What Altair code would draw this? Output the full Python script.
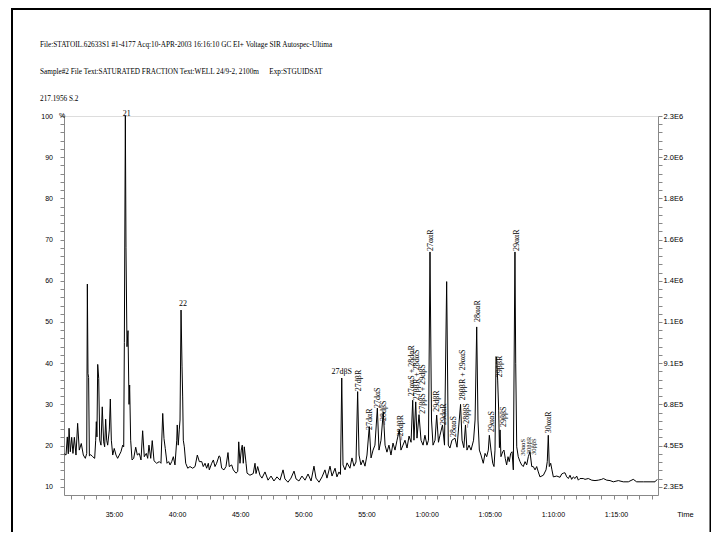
import altair as alt
import pandas as pd

FONT = "Liberation Serif"

header_file = "File:STATOIL.62633S1 #1-4177 Acq:10-APR-2003 16:16:10 GC EI+ Voltage SIR Autospec-Ultima"
header_sample = "Sample#2 File Text:SATURATED FRACTION Text:WELL 24/9-2, 2100m"
header_exp = "Exp:STGUIDSAT"
header_mass = "217.1956 S.2"
x_title = "Time"
y_title = "%"

# retention time (min) and relative intensity (%)
times = [
    30.45, 30.59, 30.69, 30.77, 30.83, 30.93, 31.04, 31.14, 31.25, 31.38,
    31.51, 31.64, 31.80, 31.96, 32.12, 32.23, 32.28, 32.33, 32.38, 32.44,
    32.55, 32.70, 32.86, 32.94, 32.99, 33.04, 33.10, 33.18, 33.26, 33.36,
    33.46, 33.57, 33.65, 33.73, 33.81, 33.89, 34.02, 34.10, 34.18, 34.29,
    34.41, 34.55, 34.68, 34.81, 34.94, 35.08, 35.16, 35.21, 35.29, 35.34,
    35.42, 35.50, 35.58, 35.63, 35.71, 35.82, 35.95, 36.11, 36.24, 36.39,
    36.53, 36.66, 36.79, 36.95, 37.06, 37.16, 37.30, 37.42, 37.56, 37.77,
    37.98, 38.11, 38.25, 38.35, 38.45, 38.59, 38.72, 38.83, 38.96, 39.09,
    39.22, 39.36, 39.40, 39.48, 39.56, 39.62, 39.70, 39.78, 39.83, 39.88,
    39.96, 40.07, 40.23, 40.41, 40.62, 40.81, 40.99, 41.15, 41.34, 41.46,
    41.60, 41.73, 41.86, 41.94, 42.13, 42.26, 42.39, 42.52, 42.71, 42.79,
    42.92, 43.10, 43.26, 43.42, 43.52, 43.71, 43.84, 44.05, 44.19, 44.27,
    44.37, 44.47, 44.55, 44.63, 44.71, 44.85, 44.93, 45.16, 45.42, 45.56,
    45.64, 45.77, 45.95,
    46.11, 46.35, 46.59, 46.83, 47.06, 47.30, 47.54, 47.78, 47.93, 48.17,
    48.41, 48.65, 48.81, 49.04, 49.28, 49.52, 49.76, 50.00, 50.23, 50.39,
    50.63, 50.87, 51.10, 51.26, 51.50, 51.66, 51.90, 52.05, 52.21, 52.33,
    52.43, 52.53, 52.69, 52.85, 53.08, 53.24, 53.40, 53.56, 53.69, 53.80,
    53.95, 54.11, 54.27, 54.43, 54.61, 54.75, 54.91, 55.06, 55.25, 55.38,
    55.54, 55.72, 55.86, 56.01, 56.17, 56.33, 56.49, 56.65, 56.81, 56.99,
    57.12, 57.28, 57.44, 57.60, 57.76, 57.92, 58.05, 58.15, 58.29, 58.39,
    58.55, 58.71, 58.87, 59.02, 59.18, 59.30, 59.42, 59.54, 59.66, 59.82,
    59.95, 60.09, 60.21, 60.41, 60.57, 60.74, 60.87, 61.00, 61.16, 61.40,
    61.56, 61.84, 61.96, 62.10, 62.23, 62.35, 62.51, 62.67, 62.87, 62.99,
    63.12, 63.22, 63.33, 63.46,
    63.64, 63.78, 63.91, 64.04, 64.12, 64.25, 64.39, 64.49, 64.57, 64.65,
    64.70, 64.78, 64.86, 64.92, 64.97, 65.04, 65.18, 65.28, 65.38, 65.49,
    65.60, 65.70, 65.81, 65.92, 66.02, 66.15, 66.21, 66.29, 66.41, 66.55,
    66.68, 66.81, 66.95, 67.08, 67.21, 67.34, 67.48, 67.60, 67.74, 67.87,
    68.00, 68.13, 68.40, 68.61, 68.71, 68.79, 68.87, 68.98, 69.08, 69.19,
    69.46, 69.72, 69.85, 69.98, 70.11, 70.25, 70.38, 70.51, 70.64, 70.77,
    70.91, 71.04, 71.17, 71.30, 71.56, 71.70, 71.96, 72.23, 72.49, 72.75,
    73.02, 73.15, 73.42, 73.68, 73.94, 74.34, 74.73, 75.13, 75.52, 75.79,
    76.32, 76.85, 77.24, 77.42,
]
intensity = [
    18.0, 17.7, 22.1, 18.0, 24.2, 18.5, 22.0, 18.1, 22.0, 17.7,
    25.4, 18.9, 20.5, 17.7, 16.9, 18.1, 59.2, 37.5, 36.5, 17.5,
    17.8, 17.3, 16.9, 21.3, 25.8, 22.1, 39.7, 36.3, 21.3, 20.1,
    29.4, 20.9, 19.7, 26.4, 21.3, 20.1, 23.8, 31.3, 21.3, 17.7,
    19.3, 17.7, 16.9, 17.7, 18.5, 20.1, 19.7, 45.0, 100.0, 68.0,
    44.0, 47.9, 30.0, 34.7, 21.3, 16.5, 16.9, 19.6, 17.7, 18.1,
    16.5, 23.6, 17.3, 18.1, 16.9, 20.1, 16.9, 21.2, 16.3, 15.7,
    16.1, 15.7, 27.8, 21.7, 19.3, 15.7, 16.1, 15.3, 16.1, 17.3,
    15.3, 21.3, 25.0, 20.1, 23.8, 26.2, 52.9, 39.1, 31.8, 21.3,
    19.7, 15.7, 14.5, 14.9, 14.5, 14.9, 17.7, 16.1, 16.1, 14.9,
    15.7, 14.5, 15.7, 14.1, 15.7, 16.5, 14.9, 15.7, 17.5, 17.3,
    14.5, 14.1, 14.9, 18.3, 14.9, 15.3, 14.1, 13.3, 13.7, 20.9,
    15.7, 18.9, 20.1, 15.7, 19.7, 15.7, 13.3, 12.8, 13.2, 15.7,
    13.2, 14.9, 12.8,
    12.1, 13.6, 11.6, 12.6, 11.4, 12.4, 11.6, 14.1, 11.9, 11.1,
    12.1, 13.8, 11.9, 11.4, 12.6, 11.6, 13.1, 11.4, 15.0, 12.1,
    11.1, 12.4, 14.1, 12.1, 15.0, 12.6, 14.5, 12.4, 13.6, 13.0,
    36.4, 15.3, 14.1, 15.8, 14.5, 17.0, 15.0, 16.0, 33.1, 17.7,
    15.3, 16.5, 15.0, 17.7, 24.6, 17.0, 18.9, 20.1, 29.1, 18.9,
    21.3, 28.2, 20.1, 18.4, 20.1, 17.7, 20.6, 18.9, 21.3, 23.8,
    18.9, 20.1, 21.3, 19.4, 22.3, 20.8, 31.0, 21.3, 30.6, 21.8,
    27.5, 21.3, 20.1, 22.5, 20.1, 21.3, 67.0, 26.2, 20.1, 21.3,
    27.4, 20.8, 22.5, 25.0, 20.1, 59.8, 20.1, 19.4, 21.3, 21.8,
    19.6, 30.0, 21.3, 19.5, 25.0, 18.9, 20.1, 18.9, 21.3, 26.2,
    48.8, 26.2, 18.9, 17.7,
    15.7, 18.1, 17.3, 18.9, 22.5, 18.9, 15.7, 14.9, 18.9, 41.6,
    41.2, 35.9, 28.6, 19.5, 23.8, 17.3, 18.5, 18.9, 16.9, 15.3,
    17.3, 16.1, 18.1, 18.5, 14.1, 67.0, 40.0, 19.7, 17.3, 16.1,
    15.3, 14.9, 16.1, 15.3, 17.3, 18.5, 14.9, 14.9, 14.1, 14.9,
    13.6, 12.4, 12.8, 14.1, 16.1, 22.5, 14.9, 15.7, 14.1, 12.4,
    12.6, 12.3, 13.1, 13.3, 13.4, 12.4, 12.0, 12.8, 11.8, 12.4,
    12.0, 12.6, 11.6, 12.0, 12.0, 11.8, 12.0, 11.6, 11.5, 11.6,
    11.8, 12.0, 11.6, 11.5, 11.2, 11.5, 11.2, 11.2, 11.8, 11.2,
    11.2, 11.2, 11.2, 11.8,
]

# horizontal peak labels
h_labels = ["21", "22", "27dβS"]
h_time = [35.40, 39.86, 52.43]
h_level = [99.4, 53.3, 36.9]

# vertical peak labels (text starts at the given level and runs upward)
v_labels = ["27dβR", "27dαR", "27dαS", "–28dβS", "–28dβR",
            "27ααS + 28dαR", "27ββR + 28dαS", "27ββS + 29dβS", "27ααR",
            "29dβR", "29dαR", "28ααS", "28ββR + 29ααS", "–28ββS", "28ααR",
            "29ααS", "29ββR", "29ββS", "29ααR", "30ααR"]
v_time = [53.80, 54.67, 55.33, 55.78, 57.12,
          58.03, 58.43, 58.87, 59.50,
          59.95, 60.53, 61.32, 62.00, 62.39, 63.20,
          64.31, 64.97, 65.28, 66.29, 68.85]
v_level = [33.2, 23.8, 29.1, 25.0, 21.3,
           32.0, 31.0, 27.7, 67.2,
           28.2, 25.0, 22.1, 31.0, 24.3, 50.0,
           23.3, 36.6, 24.5, 67.2, 23.0]

# small crowded labels
s_labels = ["30ααS", "30ββR", "30ββS"]
s_time = [66.75, 67.24, 67.64]
s_level = [17.5, 17.9, 17.7]

x_minor_ticks = list(range(31, 78))
x_label_minutes = [35, 40, 45, 50, 55, 60, 65, 70, 75]
x_tick_labels = ["35:00", "40:00", "45:00", "50:00", "55:00",
                 "1:00:00", "1:05:00", "1:10:00", "1:15:00"]
y_ticks = list(range(10, 101, 2))
right_values = [10, 20, 30, 40, 50, 60, 70, 80, 90, 100]
right_labels = ["2.3E5", "4.5E5", "6.8E5", "9.1E5", "1.1E6",
                "1.4E6", "1.6E6", "1.8E6", "2.0E6", "2.3E6"]


def lookup_expr(values, labels):
    expr = "''"
    for val, lab in reversed(list(zip(values, labels))):
        expr = f"datum.value == {val} ? '{lab}' : ({expr})"
    return expr


xscale = alt.Scale(domain=[30.43, 77.48], nice=False, zero=False)
yscale = alt.Scale(domain=[8, 100], nice=False, zero=False)

x_axis = alt.Axis(
    orient="bottom", values=x_minor_ticks,
    labelExpr=lookup_expr(x_label_minutes, x_tick_labels),
    ticks=True, labels=True, domain=True,
    tickSize=4, labelPadding=15, labelAlign="right", labelBaseline="middle",
    labelOffset=1, labelFontSize=7, labelOverlap=False, labelFlush=False, grid=False,
    title=x_title, titleX=621, titleY=19.5, titleAlign="center", titleBaseline="middle",
    titleFontSize=7.5, titleFontWeight="normal",
)
y_axis_left = alt.Axis(
    orient="left", values=y_ticks, labelExpr="datum.value % 10 == 0 ? datum.label : ''",
    tickSize=4, labelPadding=7.5, labelAlign="right", labelBaseline="middle",
    labelFontSize=7, labelOverlap=False, labelFlush=False, grid=False,
    title=y_title, titleAngle=0, titleX=-2.5, titleY=-1, titleAlign="center",
    titleBaseline="middle", titleFontSize=7, titleFontWeight="normal",
)
y_axis_right = alt.Axis(
    orient="right", values=y_ticks, labelExpr=lookup_expr(right_values, right_labels),
    tickSize=4, labelPadding=1, labelAlign="left", labelBaseline="middle",
    labelFontSize=7.5, labelOverlap=False, labelFlush=False, grid=False, title="",
)

trace = pd.DataFrame({"t": times, "v": intensity})
one = pd.DataFrame({"k": [0]})

X = alt.X("t:Q", scale=xscale, axis=x_axis)

frame = alt.Chart(one).mark_rect(fill="white", fillOpacity=0, stroke="black", strokeWidth=2).encode(
    x=alt.value(-52), x2=alt.value(646.5), y=alt.value(-107), y2=alt.value(470)
)


def header(txt, px, py):
    return alt.Chart(one).mark_text(
        text=txt, font=FONT, fontSize=7.25, align="left", baseline="middle", color="black"
    ).encode(x=alt.value(px), y=alt.value(py))


h1 = header(header_file, -24, -71)
h2 = header(header_sample, -24, -44.5)
h2b = header(header_exp, 205.3, -44.5)
h3 = header(header_mass, -24, -17.5)

line = alt.Chart(trace).mark_line(color="#000000", strokeWidth=1).encode(
    x=X,
    y=alt.Y("v:Q", scale=yscale, axis=y_axis_left),
)
right = alt.Chart(trace).mark_line(strokeOpacity=0).encode(
    x=X,
    y=alt.Y("v:Q", scale=yscale, axis=y_axis_right),
)

htext = alt.Chart(pd.DataFrame({"label": h_labels, "t": h_time, "v": h_level})).mark_text(
    font=FONT, fontSize=8, align="center", baseline="bottom", color="black"
).encode(x=X, y=alt.Y("v:Q", scale=yscale, axis=None), text="label:N")

vtext = alt.Chart(pd.DataFrame({"label": v_labels, "t": v_time, "v": v_level})).mark_text(
    font=FONT, fontSize=8, angle=270, align="left", baseline="middle", color="black"
).encode(x=X, y=alt.Y("v:Q", scale=yscale, axis=None), text="label:N")

stext = alt.Chart(pd.DataFrame({"label": s_labels, "t": s_time, "v": s_level})).mark_text(
    font=FONT, fontSize=6.5, angle=270, align="left", baseline="middle", color="black"
).encode(x=X, y=alt.Y("v:Q", scale=yscale, axis=None), text="label:N")

chart = alt.layer(
    frame, h1, h2, h2b, h3, line, right, htext, vtext, stext
).resolve_scale(y="shared", x="shared").resolve_axis(y="independent").properties(
    width=594, height=379,
    autosize=alt.AutoSizeParams(type="none"),
    padding={"left": 56, "top": 108, "right": 53, "bottom": 37},
).configure_view(strokeWidth=0).configure_axis(
    domainColor="black", tickColor="black", labelColor="black", titleColor="black",
    labelFont=FONT, titleFont=FONT, domainWidth=1, tickWidth=1,
).configure(background="white")

chart.save("out.html", embed_options={"renderer": "svg", "actions": False})
